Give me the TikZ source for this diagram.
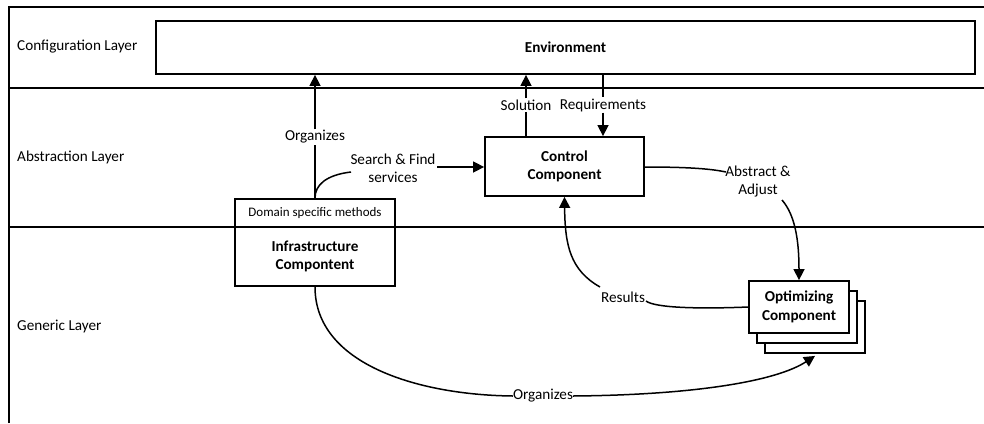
\documentclass[tikz,border=0pt]{standalone}
\usepackage{fontspec}
\setmainfont{Carlito}
\usetikzlibrary{arrows.meta,calc}
\begin{document}
\begin{tikzpicture}[x=1pt,y=-1pt,
  every node/.style={font=\fontsize{15.2}{18.4}\selectfont},
  frame/.style={line width=1.4pt},
  box/.style={draw,line width=1.8pt,fill=white,inner sep=0pt,align=center},
  lbl/.style={fill=white,inner sep=1pt,align=center},
  conn/.style={line width=1.5pt},
  arr/.style={conn,-{Triangle[length=11pt,width=11pt]}}]
\useasboundingbox (0,0) rectangle (984,423);

% layer separators and frame
\draw[frame] (9,423) -- (9,7) -- (984,7);
\draw[frame] (9,88) -- (984,88);
\draw[frame] (9,227) -- (984,227);

\node[anchor=west,inner sep=0pt] (cfg) at (17,47) {Configuration Layer};
\node[anchor=west,inner sep=0pt] (abs) at (17,157) {Abstraction Layer};
\node[anchor=west,inner sep=0pt] (gen) at (17,326) {Generic Layer};

% components
\node[box,minimum width=819pt,minimum height=53pt] (env) at (565.5,47.5) {\bfseries Environment};
\node[box,minimum width=160pt,minimum height=28pt,font=\fontsize{13}{15}\selectfont] (dsm) at (315,213) {Domain specific methods};
\node[box,minimum width=160pt,minimum height=59pt] (infra) at (315,256.5) {\bfseries Infrastructure\\\bfseries Compontent};
\node[box,minimum width=159pt,minimum height=59pt] (ctrl) at (564.5,166.5) {\bfseries Control\\\bfseries Component};
\node[box,minimum width=100pt,minimum height=52pt] (opt3) at (815,327) {};
\node[box,minimum width=100pt,minimum height=52pt] (opt2) at (807,317) {};
\node[box,minimum width=100pt,minimum height=52pt] (opt) at (799,307) {\bfseries Optimizing\\\bfseries Component};

% labels
\node[lbl] (org1) at (315,137) {Organizes};
\node[lbl] (srch) at (393,168) {Search \& Find\\services};
\node[lbl] (sol) at (526,105) {Solution};
\node[lbl] (req) at (603,105) {Requirements};
\node[lbl] (adj) at (758,181.5) {Abstract \&\\Adjust};
\node[lbl,inner sep=0pt] (res) at (623,297) {Results};
\node[lbl,inner sep=0pt] (org2) at (543,396) {Organizes};

% attachment points at the two-line labels
\coordinate (srchin) at (351,172);
\coordinate (srchout) at (437,167);
\coordinate (adjin) at (726,172);
\coordinate (adjout) at (782,200);
\coordinate (resin) at (646,301);
\coordinate (resout) at (600,287);

% connectors
\draw[conn] (dsm.north) -- (org1.south);
\draw[arr] (org1.north) -- (env.south -| org1.north);
\draw[conn] (dsm.north) .. controls (315,185) and (326,175) .. (srchin);
\draw[arr] (srchout) -- (ctrl.west |- srchout);
\draw[conn] (ctrl.north -| sol.south) -- (sol.south);
\draw[arr] (sol.north) -- (env.south -| sol.north);
\draw[conn] (env.south -| req.north) -- (req.north);
\draw[arr] (req.south) -- (ctrl.north -| req.south);
\draw[conn] (ctrl.east |- 0,167) .. controls (690,167) and (712,169) .. (adjin);
\draw[arr] (adjout) .. controls (795,215) and (799,240) .. (opt.north);
\draw[conn] (opt.west) .. controls (700,309) and (655,308) .. (resin);
\draw[arr] (resout) .. controls (570,270) and (565,245) .. (ctrl.south);
\draw[conn] (infra.south) .. controls (315,365) and (420,395) .. (org2.west);
\draw[arr] (org2.east) .. controls (690,395) and (775,382) .. ($(opt3.south)+(0,2)$);
\end{tikzpicture}
\end{document}
